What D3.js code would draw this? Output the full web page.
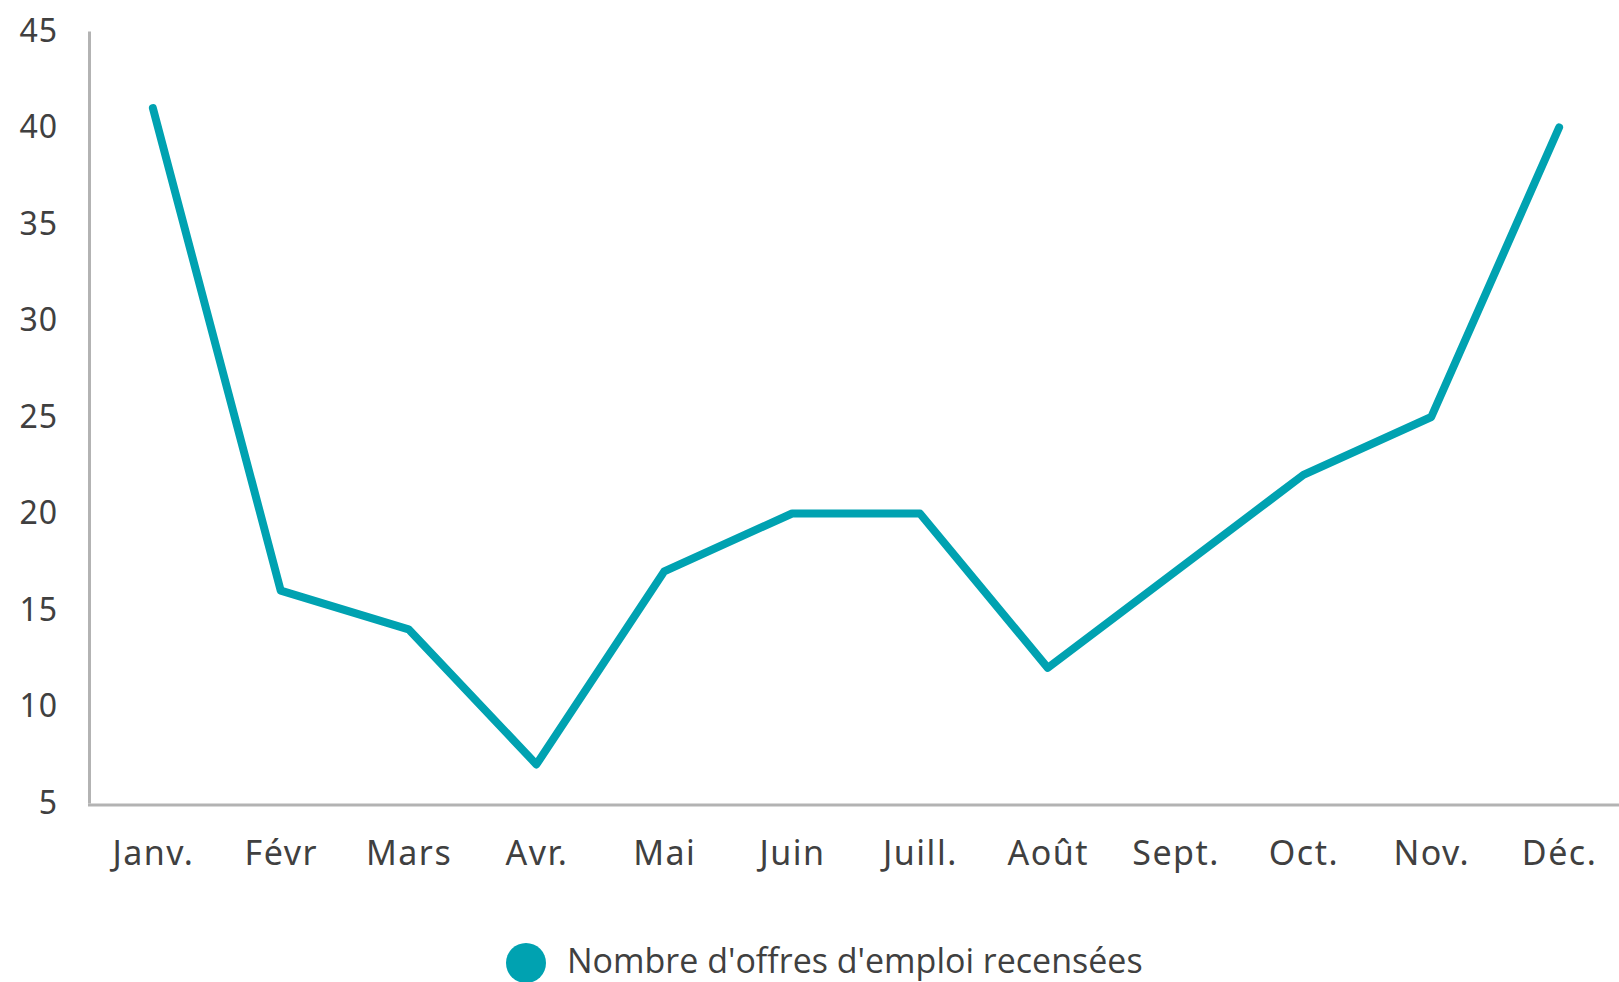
<!DOCTYPE html>
<html><head><meta charset="utf-8">
<script src="https://cdn.jsdelivr.net/npm/d3@7"></script>
<style>html,body{margin:0;padding:0;background:#fff;overflow:hidden}</style>
</head><body>
<svg id="c" width="1619" height="982"></svg>
<script>
const months = ["Janv.","Févr","Mars","Avr.","Mai","Juin","Juill.","Août","Sept.","Oct.","Nov.","Déc."];
const offres = [41,16,14,7,17,20,20,12,17,22,25,40];
const yTicks = [5,10,15,20,25,30,35,40,45];
const seriesName = "Nombre d'offres d'emploi recensées";

const svg = d3.select("#c");
const x = d3.scalePoint().domain(months).range([89,1623]).padding(0.5);
const y = d3.scaleLinear().domain([5,45]).range([803,31]);
const color = "#00A2B1";
const axisColor = "#b3b3b3";
const textColor = "#404040";
const font = "'Noto Sans', sans-serif";

// y axis
const ya = svg.append("g").attr("transform","translate(89,0)")
  .call(d3.axisLeft(y).tickValues(yTicks).tickSize(0).tickPadding(31));
ya.select(".domain").attr("stroke",axisColor).attr("stroke-width",3);
ya.selectAll("text").attr("font-family",font).attr("font-size",32)
  .attr("letter-spacing","1px").attr("fill",textColor);

// x axis
const xa = svg.append("g").attr("transform","translate(0,805)")
  .call(d3.axisBottom(x).tickSize(0));
xa.select(".domain").attr("d","M88,0H1619").attr("stroke",axisColor).attr("stroke-width",3);
xa.selectAll("text").attr("y",60).attr("dy",0).attr("font-family",font).attr("font-size",34)
  .attr("letter-spacing","1.5px").attr("fill",textColor);

// line
const line = d3.line().x((d,i)=>x(months[i])).y(d=>y(d));
svg.append("path").datum(offres).attr("d",line)
  .attr("fill","none").attr("stroke",color).attr("stroke-width",8)
  .attr("stroke-linejoin","round").attr("stroke-linecap","round");

// legend
const lg = svg.append("g");
lg.append("circle").attr("cx",526).attr("cy",963).attr("r",20).attr("fill",color);
lg.append("text").attr("x",567).attr("y",973).text(seriesName)
  .attr("font-family","'Open Sans', sans-serif").attr("font-size",34).attr("fill",textColor);
</script>
</body></html>
